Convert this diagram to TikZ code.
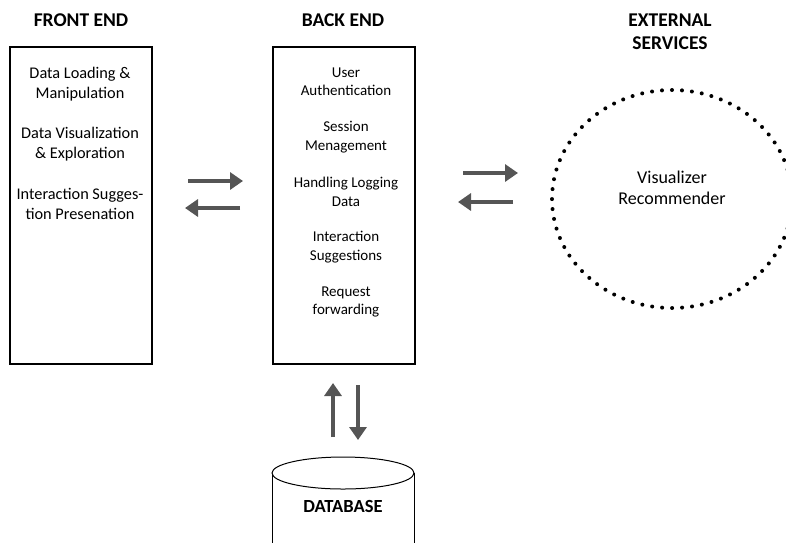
\documentclass[tikz,border=0pt]{standalone}
\usepackage{fontspec}
\setmainfont{Carlito}
\usetikzlibrary{arrows.meta}
\usetikzlibrary{shapes.geometric}

\definecolor{arrowgray}{HTML}{555555}
\tikzset{
  title/.style={font=\fontsize{19.5}{23}\selectfont\bfseries, align=center},
  box/.style={draw, line width=1.2pt, minimum width=142pt, minimum height=317pt, inner sep=0pt},
  fitem/.style={font=\fontsize{16.3}{20}\selectfont, align=center},
  bitem/.style={font=\fontsize{15}{18.5}\selectfont, align=center},
  flow/.style={draw=arrowgray, line width=4pt, -{Triangle[length=13pt,width=17pt]}},
}

\begin{document}
\begin{tikzpicture}[x=1pt, y=-1pt]
\useasboundingbox (0,0) rectangle (786,542);
\clip (0,0) rectangle (786,542);

% titles
\node[title] (t-front) at (81,20) {FRONT END};
\node[title] (t-back) at (343,20) {BACK END};
\node[title] (t-ext) at (670,31.5) {EXTERNAL\\SERVICES};

% front end
\node[box] (front) at (81,205.5) {};
\node[fitem] (f1) at (80,84) {Data Loading \&\\Manipulation};
\node[fitem] (f2) at (80,144) {Data Visualization\\\& Exploration};
\node[fitem] (f3) at (80,204) {Interaction Sugges-\\tion Presenation};

% back end
\node[box] (back) at (344,205.5) {};
\node[bitem] (b1) at (346,81.5) {User\\Authentication};
\node[bitem] (b2) at (346,137) {Session\\Menagement};
\node[bitem] (b3) at (346,192) {Handling Logging\\Data};
\node[bitem] (b4) at (346,247) {Interaction\\Suggestions};
\node[bitem] (b5) at (346,302) {Request\\forwarding};

% external services
\node[ellipse, draw, line width=4pt, line cap=round, dash pattern=on 0pt off 10pt,
      minimum width=240pt, minimum height=218pt] (ext) at (672,199) {};
\node[font=\fontsize{18}{21.5}\selectfont, align=center] (vis) at (672,188) {Visualizer\\Recommender};

% database
\draw[line width=1pt] (272,473) -- (272,545);
\draw[line width=1pt] (414,473) -- (414,545);
\draw[line width=1pt, fill=white] (343,473) ellipse [x radius=71pt, y radius=16pt];
\node[font=\fontsize{18.5}{22}\selectfont\bfseries] (db) at (343,506) {DATABASE};

% arrow ends
\coordinate (fb-a) at (188,181);
\coordinate (fb-b) at (243,181);
\coordinate (bf-a) at (240,208);
\coordinate (bf-b) at (185,208);
\coordinate (be-a) at (463,173);
\coordinate (be-b) at (518,173);
\coordinate (eb-a) at (513,202);
\coordinate (eb-b) at (458,202);
\coordinate (db-a) at (333,437);
\coordinate (db-b) at (333,383);
\coordinate (bd-a) at (358,385);
\coordinate (bd-b) at (358,440);

\foreach \s/\e in {fb-a/fb-b, bf-a/bf-b, be-a/be-b, eb-a/eb-b, db-a/db-b, bd-a/bd-b}
  \draw[flow] (\s) -- (\e);
\end{tikzpicture}
\end{document}
